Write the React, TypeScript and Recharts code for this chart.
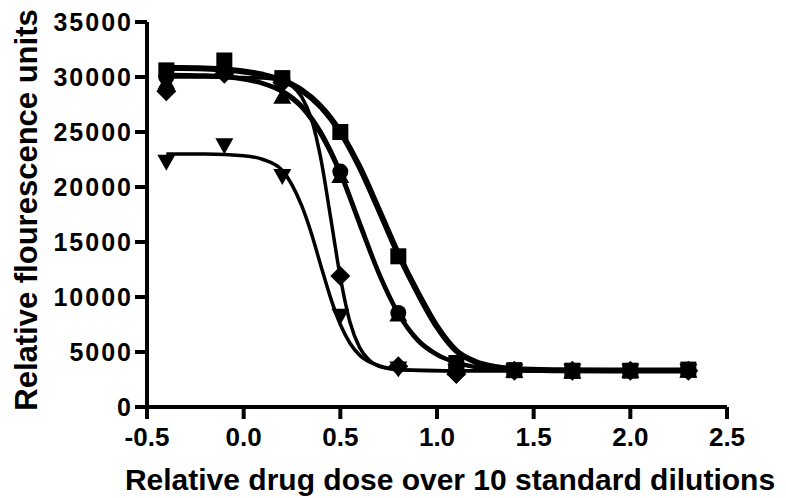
import { ComposedChart, Line, Scatter, XAxis, YAxis, Label } from "recharts";

// dose positions of the 10 standard dilutions
const doses = [-0.4, -0.1, 0.2, 0.5, 0.8, 1.1, 1.4, 1.7, 2.0, 2.3];

const squareValues = [30600, 31500, 29900, 25000, 13700, 4000, 3350, 3300, 3300, 3400];
const circleValues = [30000, 30500, 29800, 21400, 8550, 3600, 3300, 3300, 3300, 3300];
const upTriValues = [29500, 30800, 28200, 21000, 8400, 3500, 3300, 3200, 3300, 3300];
const diamondValues = [28700, 30300, 29500, 11900, 3700, 3000, 3300, 3300, 3300, 3300];
const downTriValues = [22300, 23800, 21000, 8300, 3500, 3300, 3300, 3300, 3300, 3300];

// fitted curves
const squareCurveX = [-0.4, -0.2, 0, 0.1, 0.2, 0.3, 0.4, 0.5, 0.6, 0.7, 0.8, 0.9, 1.0, 1.1, 1.2, 1.3, 1.4, 1.6, 1.9, 2.3];
const squareCurveY = [30850, 30780, 30500, 30200, 29700, 28800, 27300, 25000, 21800, 17900, 13900, 10400, 7300, 5100, 4100, 3650, 3450, 3350, 3320, 3320];

const circleCurveX = [-0.4, -0.2, 0, 0.1, 0.2, 0.3, 0.4, 0.5, 0.6, 0.7, 0.8, 0.9, 1.0, 1.1, 1.2, 1.3, 1.5, 1.9, 2.3];
const circleCurveY = [30200, 30150, 29850, 29450, 28750, 27400, 25000, 21400, 16800, 12200, 8550, 6150, 4800, 4050, 3650, 3480, 3340, 3300, 3300];
const upTriCurveY = [30100, 30050, 29750, 29350, 28600, 27200, 24700, 21100, 16500, 12000, 8400, 6000, 4700, 4000, 3600, 3450, 3320, 3300, 3300];

const diamondCurveX = [-0.4, -0.2, 0, 0.1, 0.2, 0.25, 0.3, 0.35, 0.4, 0.45, 0.5, 0.55, 0.6, 0.65, 0.7, 0.8, 0.9, 1.1, 1.5, 2.3];
const diamondCurveY = [30000, 30000, 29950, 29900, 29660, 29200, 28200, 26200, 22500, 17200, 11800, 7700, 5400, 4250, 3700, 3400, 3330, 3300, 3300, 3300];

const downTriCurveX = [-0.4, -0.2, 0, 0.1, 0.2, 0.25, 0.3, 0.35, 0.4, 0.45, 0.5, 0.55, 0.6, 0.7, 0.8, 0.9, 1.1, 1.5, 2.3];
const downTriCurveY = [23000, 22990, 22850, 22500, 21500, 20200, 18300, 15800, 12800, 9900, 7500, 5800, 4700, 3750, 3400, 3320, 3300, 3300, 3300];

const xTicks = [-0.5, 0, 0.5, 1.0, 1.5, 2.0, 2.5];
const yTicks = [0, 5000, 10000, 15000, 20000, 25000, 30000, 35000];

const toPoints = (xs: number[], ys: number[]) => xs.map((x, i) => ({ x, y: ys[i] }));

const font = "'Liberation Sans', Arial, Helvetica, sans-serif";
const xTickStyle = { fontFamily: font, fontWeight: 700, fontSize: 26, fill: "#000" };
const yTickStyle = { fontFamily: font, fontWeight: 700, fontSize: 25, fill: "#000", letterSpacing: 2 };

const SquareMark = ({ cx, cy }: any) => (
  <rect x={cx - 8} y={cy - 8} width={16} height={16} fill="#000" />
);
const CircleMark = ({ cx, cy }: any) => <circle cx={cx} cy={cy} r={8} fill="#000" />;
const DiamondMark = ({ cx, cy }: any) => (
  <polygon points={`${cx},${cy - 10} ${cx + 10},${cy} ${cx},${cy + 10} ${cx - 10},${cy}`} fill="#000" />
);
const UpTriMark = ({ cx, cy }: any) => (
  <polygon points={`${cx},${cy - 9} ${cx + 9},${cy + 7} ${cx - 9},${cy + 7}`} fill="#000" />
);
const DownTriMark = ({ cx, cy }: any) => (
  <polygon points={`${cx - 9},${cy - 7} ${cx + 9},${cy - 7} ${cx},${cy + 9}`} fill="#000" />
);

const YTitle = () => (
  <text
    x={29}
    y={202}
    transform="rotate(-90, 29, 202)"
    textAnchor="middle"
    style={{ fontFamily: font, fontWeight: 700, fontSize: 31, fill: "#000" }}
  >
    Relative flourescence units
  </text>
);

const XTitle = () => (
  <text
    x={442}
    y={482}
    textAnchor="middle"
    style={{ fontFamily: font, fontWeight: 700, fontSize: 30, fill: "#000" }}
  >
    Relative drug dose over 10 standard dilutions
  </text>
);

export default function App() {
  return (
    <ComposedChart
      width={770}
      height={490}
      margin={{ top: 14, right: 51, left: 0, bottom: 0 }}
    >
      <XAxis
        type="number"
        dataKey="x"
        domain={[-0.5, 2.5]}
        ticks={xTicks}
        tickFormatter={(v: number) => v.toFixed(1)}
        height={91}
        tick={xTickStyle}
        tickSize={12}
        tickMargin={9}
        axisLine={{ stroke: "#000", strokeWidth: 4 }}
        tickLine={{ stroke: "#000", strokeWidth: 4 }}
        allowDataOverflow
      >
        <Label content={XTitle} />
      </XAxis>
      <YAxis
        type="number"
        dataKey="y"
        domain={[0, 35000]}
        ticks={yTicks}
        width={139}
        tick={yTickStyle}
        tickSize={12}
        tickMargin={2}
        axisLine={{ stroke: "#000", strokeWidth: 4 }}
        tickLine={{ stroke: "#000", strokeWidth: 4 }}
        allowDataOverflow
      >
        <Label content={YTitle} />
      </YAxis>

      <Line data={toPoints(downTriCurveX, downTriCurveY)} dataKey="y" type="monotone" stroke="#000" strokeWidth={3.5} dot={false} isAnimationActive={false} />
      <Line data={toPoints(diamondCurveX, diamondCurveY)} dataKey="y" type="monotone" stroke="#000" strokeWidth={3.5} dot={false} isAnimationActive={false} />
      <Line data={toPoints(circleCurveX, upTriCurveY)} dataKey="y" type="monotone" stroke="#000" strokeWidth={3.5} dot={false} isAnimationActive={false} />
      <Line data={toPoints(circleCurveX, circleCurveY)} dataKey="y" type="monotone" stroke="#000" strokeWidth={4} dot={false} isAnimationActive={false} />
      <Line data={toPoints(squareCurveX, squareCurveY)} dataKey="y" type="monotone" stroke="#000" strokeWidth={6} dot={false} isAnimationActive={false} />

      <Scatter data={toPoints(doses, downTriValues)} dataKey="y" shape={DownTriMark} isAnimationActive={false} />
      <Scatter data={toPoints(doses, diamondValues)} dataKey="y" shape={DiamondMark} isAnimationActive={false} />
      <Scatter data={toPoints(doses, upTriValues)} dataKey="y" shape={UpTriMark} isAnimationActive={false} />
      <Scatter data={toPoints(doses, circleValues)} dataKey="y" shape={CircleMark} isAnimationActive={false} />
      <Scatter data={toPoints(doses, squareValues)} dataKey="y" shape={SquareMark} isAnimationActive={false} />
    </ComposedChart>
  );
}
